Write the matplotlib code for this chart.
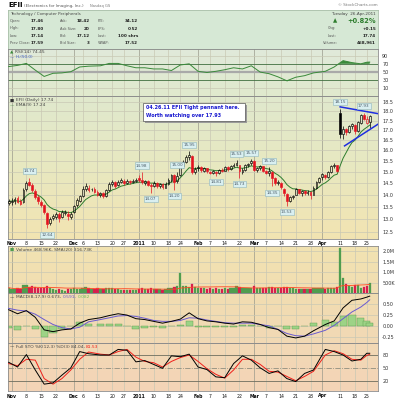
import matplotlib
matplotlib.use('Agg')
import matplotlib.pyplot as plt
import matplotlib.transforms as mtrans
from matplotlib.colors import LinearSegmentedColormap
from matplotlib.patches import Rectangle
from matplotlib.ticker import FixedLocator, FixedFormatter, NullLocator
import numpy as np
import pandas as pd

# ---------------- data ----------------
holidays = ['2010-11-25', '2010-12-24', '2011-01-17', '2011-02-21', '2011-04-22']
days = pd.bdate_range('2010-10-29', '2011-04-26')
days = days[~days.isin(pd.to_datetime(holidays))]

open_ = [13.65,
         13.70, 13.75, 13.85, 13.72, 13.70, 14.25, 14.55, 14.40, 14.15, 13.90, 13.70, 13.55, 13.25, 12.85, 13.05, 13.10, 13.20, 13.08, 13.25, 13.20, 13.10,
         13.30, 13.55, 13.75, 13.95, 14.25, 14.30, 14.22, 14.25, 14.10, 13.98, 14.05, 13.95, 14.20, 14.45, 14.52, 14.40, 14.55, 14.60, 14.50, 14.60, 14.52, 14.60,
         14.70, 14.65, 14.50, 14.58, 14.40, 14.38, 14.50, 14.35, 14.45, 14.30, 14.45, 14.62, 14.85, 14.60, 14.85, 15.25, 15.45, 15.70, 15.75, 15.00,
         15.15, 15.20, 15.05, 15.15, 15.00, 14.95, 15.00, 14.95, 15.10, 15.05, 15.20, 15.12, 15.25, 15.32, 15.30, 15.00, 15.10, 15.30, 15.38,
         15.48, 15.08, 15.15, 15.25, 15.05, 14.95, 15.00, 14.70, 14.48, 14.50, 14.25, 14.02, 13.75, 13.90, 14.00, 14.22, 14.05, 14.15, 14.05, 14.10, 14.00, 14.30, 14.55,
         14.75, 14.85, 14.78, 15.00, 15.25, 15.30, 17.90, 16.80, 17.05, 16.90, 17.20, 17.30, 16.95, 17.40, 17.80, 17.40, 17.46]
high = [13.80,
        13.85, 13.90, 13.92, 13.80, 14.30, 14.60, 14.74, 14.48, 14.22, 13.98, 13.78, 13.62, 13.30, 13.10, 13.22, 13.30, 13.28, 13.35, 13.38, 13.32, 13.28,
        13.58, 13.85, 14.00, 14.35, 14.50, 14.40, 14.30, 14.32, 14.18, 14.12, 14.10, 14.25, 14.55, 14.65, 14.58, 14.62, 14.70, 14.66, 14.68, 14.64, 14.68, 14.72,
        14.85, 14.98, 14.65, 14.62, 14.48, 14.58, 14.55, 14.50, 14.48, 14.52, 14.70, 14.90, 14.88, 15.00, 15.30, 15.55, 15.80, 15.95, 15.80, 15.20,
        15.30, 15.25, 15.22, 15.18, 15.05, 15.10, 15.05, 15.12, 15.18, 15.25, 15.24, 15.30, 15.38, 15.53, 15.32, 15.15, 15.35, 15.42, 15.57,
        15.52, 15.22, 15.32, 15.28, 15.10, 15.20, 15.05, 14.75, 14.62, 14.55, 14.30, 14.08, 13.95, 14.00, 14.28, 14.25, 14.20, 14.18, 14.18, 14.15, 14.35, 14.60, 14.78,
        14.95, 14.90, 15.05, 15.30, 15.38, 15.32, 18.15, 17.25, 17.10, 17.30, 17.40, 17.35, 17.50, 17.85, 17.93, 17.75, 17.80]
low = [13.55,
       13.55, 13.62, 13.65, 13.55, 13.65, 14.15, 14.35, 14.10, 13.80, 13.60, 13.48, 13.20, 12.64, 12.78, 12.95, 13.00, 12.90, 13.05, 13.18, 12.95, 13.02,
       13.25, 13.50, 13.70, 13.90, 14.15, 14.10, 14.15, 14.05, 13.92, 13.90, 13.85, 13.90, 14.15, 14.38, 14.30, 14.35, 14.50, 14.42, 14.45, 14.45, 14.48, 14.55,
       14.55, 14.45, 14.42, 14.35, 14.07, 14.32, 14.30, 14.30, 14.25, 14.28, 14.40, 14.55, 14.20, 14.50, 14.80, 15.15, 15.40, 15.55, 14.90, 14.92,
       15.05, 15.00, 15.00, 14.95, 14.88, 14.90, 14.81, 14.90, 14.98, 15.02, 15.05, 15.10, 15.20, 15.28, 14.73, 14.90, 15.05, 15.22, 15.30,
       15.05, 15.00, 15.10, 15.00, 14.88, 14.80, 14.35, 14.42, 14.40, 14.25, 13.95, 13.53, 13.68, 13.80, 13.98, 14.02, 13.92, 13.98, 14.00, 13.82, 13.98, 14.25, 14.50,
       14.65, 14.68, 14.72, 14.95, 15.15, 14.98, 16.60, 16.55, 16.75, 16.85, 17.05, 16.80, 16.90, 17.35, 17.55, 17.35, 17.14]
close = [13.72,
         13.75, 13.80, 13.70, 13.62, 14.20, 14.50, 14.42, 14.18, 13.88, 13.72, 13.58, 13.30, 12.82, 13.02, 13.12, 13.22, 13.05, 13.28, 13.30, 13.12, 13.22,
         13.52, 13.78, 13.92, 14.22, 14.35, 14.20, 14.25, 14.12, 13.98, 14.05, 13.92, 14.20, 14.45, 14.55, 14.38, 14.55, 14.62, 14.50, 14.60, 14.52, 14.60, 14.65,
         14.62, 14.52, 14.60, 14.42, 14.38, 14.50, 14.36, 14.45, 14.32, 14.45, 14.62, 14.85, 14.55, 14.80, 15.25, 15.45, 15.70, 15.78, 15.00, 15.12,
         15.22, 15.08, 15.15, 15.02, 14.95, 15.02, 14.95, 15.08, 15.05, 15.20, 15.12, 15.26, 15.32, 15.38, 15.02, 15.10, 15.30, 15.36, 15.48,
         15.10, 15.15, 15.26, 15.05, 14.95, 15.02, 14.72, 14.50, 14.55, 14.32, 14.05, 13.72, 13.88, 13.95, 14.22, 14.08, 14.15, 14.05, 14.12, 14.00, 14.30, 14.55, 14.72,
         14.88, 14.75, 15.00, 15.25, 15.30, 15.05, 16.80, 17.05, 16.92, 17.22, 17.32, 16.95, 17.42, 17.80, 17.60, 17.59, 17.74]
volume_k = [250,
            210, 180, 230, 200, 380, 360, 300, 330, 280, 250, 230, 260, 320, 240, 180, 150, 170, 140, 90, 180, 200,
            230, 210, 190, 260, 280, 220, 200, 180, 230, 170, 190, 250, 260, 230, 180, 170, 150, 160, 140, 130, 150, 120,
            210, 230, 190, 200, 220, 180, 190, 170, 160, 200, 230, 260, 280, 320, 950, 350, 330, 300, 420, 300,
            260, 240, 220, 200, 230, 210, 250, 200, 190, 220, 200, 230, 250, 340, 300, 260, 230, 220, 240,
            330, 260, 230, 250, 240, 280, 300, 260, 220, 240, 280, 300, 250, 230, 210, 200, 190, 210, 180, 200, 220, 240, 230,
            250, 200, 240, 260, 230, 300, 2150, 700, 420, 330, 300, 360, 380, 260, 310, 350, 468.96]

# labelled swing highs / lows (trading-day index)
high_marks = [7, 45, 57, 61, 77, 82, 88, 112, 120]
low_marks = [13, 48, 56, 70, 78, 89, 94]

# pennant trendlines (trading-day index, price)
pennant_top_x, pennant_top_y = [112, 124.8], [18.25, 17.88]
pennant_bot_x, pennant_bot_y = [113.5, 124.8], [16.22, 17.32]

# indicator readings (trading-day index)
ind_day = [0, 3, 6, 9, 12, 15, 18, 21, 24, 27, 31, 34, 37, 40, 43, 46, 49, 52, 55, 58, 61,
           64, 67, 70, 73, 76, 79, 82, 85, 88, 91, 94, 97, 100, 103, 107, 110, 113, 116, 119, 121, 122]
rsi = [63, 66, 71, 54, 38, 46, 47, 50, 62, 64, 65, 71, 71, 65, 60, 60, 57, 57, 53, 67, 70,
       51, 48, 51, 55, 60, 57, 65, 49, 45, 37, 27, 36, 40, 47, 51, 62, 78, 73, 70, 74, 74.45]
macd = [0.37, 0.28, 0.35, 0.20, -0.08, -0.12, -0.08, -0.06, 0.07, 0.15, 0.19, 0.24, 0.28, 0.25, 0.17, 0.15, 0.11, 0.07, 0.11, 0.16, 0.30,
        0.17, 0.12, 0.10, 0.07, 0.05, 0.10, 0.09, 0.04, -0.03, -0.07, -0.22, -0.26, -0.22, -0.10, 0.04, 0.12, 0.41, 0.58, 0.61, 0.65, 0.673]
signal = [0.40, 0.36, 0.34, 0.27, 0.15, 0.04, -0.03, -0.06, -0.02, 0.10, 0.15, 0.19, 0.23, 0.24, 0.22, 0.18, 0.13, 0.11, 0.11, 0.13, 0.19,
          0.18, 0.14, 0.11, 0.08, 0.07, 0.07, 0.07, 0.04, 0.01, -0.07, -0.16, -0.21, -0.22, -0.17, -0.09, 0.02, 0.17, 0.32, 0.43, 0.53, 0.591]
sto_k = [63, 52, 81, 45, 12, 15, 33, 50, 88, 83, 80, 80, 93, 91, 64, 67, 58, 49, 78, 76, 82,
         52, 46, 29, 27, 60, 78, 68, 50, 37, 43, 25, 18, 37, 45, 93, 88, 80, 66, 70, 84, 84.04]
sto_d = [60, 55, 70, 68, 25, 12, 25, 45, 70, 87, 82, 80, 88, 93, 75, 65, 62, 52, 65, 74, 80,
         65, 48, 35, 26, 45, 70, 70, 58, 42, 40, 30, 20, 30, 42, 80, 90, 83, 70, 68, 79, 81.53]

tick_dates = ['2010-11-01', '2010-11-08', '2010-11-15', '2010-11-22', '2010-12-01', '2010-12-06', '2010-12-13',
              '2010-12-20', '2010-12-27', '2011-01-03', '2011-01-10', '2011-01-18', '2011-01-24', '2011-02-01',
              '2011-02-07', '2011-02-14', '2011-02-22', '2011-03-01', '2011-03-07', '2011-03-14', '2011-03-21',
              '2011-03-28', '2011-04-01', '2011-04-11', '2011-04-18', '2011-04-25']
tick_labels = ['Nov', '8', '15', '22', 'Dec', '6', '13', '20', '27', '2011', '10', '18', '24', 'Feb',
               '7', '14', '22', 'Mar', '7', '14', '21', '28', 'Apr', '11', '18', '25']
month_labels = ['Nov', 'Dec', '2011', 'Feb', 'Mar', 'Apr']

# ---------------- derived ----------------
o, h, l, c = map(np.array, (open_, high, low, close))
vol = np.array(volume_k)
n = len(c)
x = np.arange(n)
ema = pd.Series(c).ewm(span=9, adjust=False).mean().values
vol_sma = pd.Series(vol).rolling(20, min_periods=1).mean().values
hist = np.array(macd) - np.array(signal)
tick_pos = [days.get_loc(pd.Timestamp(d)) for d in tick_dates]
up_day = np.r_[True, c[1:] >= c[:-1]]

# ---------------- figure ----------------
W, H = 400, 400
fig = plt.figure(figsize=(4, 4), dpi=100)
fig.patch.set_facecolor('white')
XL = (-0.22, 124.8)


def rect(top, bottom, left=8, right=378):
    return [left / W, 1 - bottom / H, (right - left) / W, (bottom - top) / H]


def ptext(px, py, s, **kw):
    kw.setdefault('va', 'center')
    return fig.text(px / W, 1 - py / H, s, **kw)


def chain(px, py, parts, **kw):
    r = fig.canvas.get_renderer()
    for s, col in parts:
        t = ptext(px, py, s, color=col, **kw)
        px += t.get_window_extent(r).width + 1.5


bg_cmap = LinearSegmentedColormap.from_list('bg', [
    (0.00, '#e0eada'), (0.14, '#e0e9cd'), (0.35, '#e8e8c0'),
    (0.55, '#f2e4b2'), (0.72, '#f1ddb1'), (0.86, '#f2d9b5'), (1.00, '#f4d4b7')])
GRID = '#c9c8b4'
MONTH = '#9a9a8c'


def panel(top, bottom, ylim, yticks, ylabels, log=False):
    r = rect(top, bottom)
    bg = fig.add_axes(r, zorder=0)
    ys = np.linspace(top, bottom, 80)
    bg.imshow(((ys - 49) / (391 - 49))[:, None], aspect='auto', cmap=bg_cmap,
              vmin=0, vmax=1, extent=[0, 1, 0, 1], origin='upper')
    bg.axis('off')
    ax = fig.add_axes(r, zorder=1)
    ax.patch.set_alpha(0)
    if log:
        ax.set_yscale('log')
    ax.set_xlim(*XL)
    ax.set_ylim(*ylim)
    ax.yaxis.tick_right()
    ax.yaxis.set_major_locator(FixedLocator(yticks))
    ax.yaxis.set_major_formatter(FixedFormatter(ylabels))
    ax.yaxis.set_minor_locator(NullLocator())
    ax.set_xticks([])
    ax.tick_params(axis='y', length=0, pad=3, labelsize=3.5, labelcolor='#333333')
    for s in ax.spines.values():
        s.set_color('#8c8c8c')
        s.set_linewidth(0.6)
    for tp, lab in zip(tick_pos, tick_labels):
        ax.axvline(tp, color=MONTH if lab in month_labels else GRID, lw=0.5, zorder=0.5)
    return ax


# title row
ptext(8, 5, 'EFII', fontsize=5, fontweight='bold', color='black')
ptext(23.5, 5.5, '(Electronics for Imaging, Inc.)', fontsize=2.9, color='#555555')
ptext(90, 5.5, 'Nasdaq GS', fontsize=2.6, color='#777777')
ptext(378, 5.5, '\u00a9 StockCharts.com', fontsize=2.9, color='#777777', ha='right')

# info box
info = fig.add_axes(rect(10, 49), zorder=1)
info.set_facecolor('#d6e8d5')
info.set_xticks([])
info.set_yticks([])
for s in info.spines.values():
    s.set_color('#a9bfa9')
    s.set_linewidth(0.6)
ptext(10, 13.5, 'Technology / Computer Peripherals', fontsize=2.85, color='#444444', zorder=3)
ptext(376, 13.5, 'Tuesday  26-Apr-2011', fontsize=3.0, color='#444444', ha='right', zorder=3)
rows_y = [21, 28.5, 36, 43.3]
cols = [(10, 44, ['Open:', 'High:', 'Low:', 'Prev Close:'], ['17.46', '17.80', '17.14', '17.59']),
        (60, 90, ['Ask:', 'Ask Size:', 'Bid:', 'Bid Size:'], ['18.42', '20', '17.12', '3']),
        (98, 138, ['P/E:', 'EPS:', 'Last:', 'VWAP:'], ['34.12', '0.52', '100 shrs', '17.52'])]
for lx, vx, labs, vals in cols:
    for yy, lab, val in zip(rows_y, labs, vals):
        ptext(lx, yy, lab, fontsize=2.6, color='#555555', zorder=3)
        ptext(vx, yy, val, fontsize=3.0, color='#222222', fontweight='bold', ha='right', zorder=3)
ptext(335, 21, '\u25b2', fontsize=4.0, color='#2e7d2e', ha='center', zorder=3)
ptext(376, 21, '+0.82%', fontsize=4.8, color='#2e7d2e', fontweight='bold', ha='right', zorder=3)
for yy, lab, val, lx in [(28.5, 'Chg:', '+0.15', 328), (36, 'Last:', '17.74', 328), (43.3, 'Volume:', '468,961', 323)]:
    ptext(lx, yy, lab, fontsize=2.6, color='#555555', zorder=3)
    ptext(376, yy, val, fontsize=3.0, color='#222222', fontweight='bold', ha='right', zorder=3)

# RSI panel
ax_r = panel(49, 96, (-11.5, 107.5), [10, 30, 50, 70, 90], ['10', '30', '50', '70', '90'])
ax_r.axhline(50, color='#a9a9a9', lw=1.6, zorder=0.6)
ax_r.axhline(70, color='#3f6f3f', lw=0.6, zorder=0.6)
ax_r.axhline(30, color='#3f6f3f', lw=0.6, zorder=0.6)
for yv in (10, 90):
    ax_r.axhline(yv, color=GRID, lw=0.5, zorder=0.5)
ra = np.array(rsi, float)
ax_r.fill_between(ind_day, ra, 70, where=ra > 70, interpolate=True, color='#3a8a3a', lw=0, zorder=2)
ax_r.fill_between(ind_day, ra, 30, where=ra < 30, interpolate=True, color='#3a8a3a', lw=0, zorder=2)
ax_r.plot(ind_day, ra, color='#3a8a3a', lw=0.7, zorder=3)
chain(10, 52, [('\u25b2', '#3a8a3a'), (f'RSI(14) {rsi[-1]:.2f}', '#444444')], fontsize=3.2, zorder=4)
chain(10, 57, [('\u2014', '#3b5bc8'), ('HL(50.0)', '#3b5bc8')], fontsize=3.0, zorder=4)

# price panel
pt = np.arange(12.5, 18.51, 0.5)
ax_p = panel(96, 239, (12.24, 18.86), pt, [f'{v:.1f}' for v in pt], log=True)
for yv in pt:
    ax_p.axhline(yv, color=GRID, lw=0.5, zorder=0.5)
bw = 0.62
for i in range(n):
    col = 'black' if up_day[i] else '#e3121f'
    top_b, bot_b = max(o[i], c[i]), min(o[i], c[i])
    ax_p.vlines(i, top_b, h[i], color=col, lw=0.5, zorder=3)
    ax_p.vlines(i, l[i], bot_b, color=col, lw=0.5, zorder=3)
    hollow = c[i] > o[i]
    ax_p.add_patch(Rectangle((i - bw / 2, bot_b), bw, max(top_b - bot_b, 0.015),
                             facecolor='none' if hollow else col, edgecolor=col, lw=0.45, zorder=3))
ax_p.plot(x, ema, color='#2d7d2d', lw=0.7, zorder=2.5)
ax_p.plot(pennant_top_x, pennant_top_y, color='#1f2fe0', lw=1.1, zorder=4)
ax_p.plot(pennant_bot_x, pennant_bot_y, color='#1f2fe0', lw=1.1, zorder=4)
box = dict(boxstyle='square,pad=0.25', fc='#d9eff1', ec='#8fb6be', lw=0.4)
for i in high_marks:
    ax_p.annotate(f'{h[i]:.2f}', (i, h[i]), xytext=(0, 4.8), textcoords='offset points',
                  ha='center', va='center', fontsize=3.0, color='#4a5a66', bbox=box, zorder=5)
for i in low_marks:
    ax_p.annotate(f'{l[i]:.2f}', (i, l[i]), xytext=(0, -4.5), textcoords='offset points',
                  ha='center', va='center', fontsize=3.0, color='#4a5a66', bbox=box, zorder=5)
chain(10, 100.5, [('\u25a0', '#333333'), (f'EFII (Daily) {c[-1]:.2f}', '#444444')], fontsize=3.2, zorder=4)
chain(10, 105.5, [('\u2014', '#2d7d2d'), ('EMA(9) 17.24', '#444444')], fontsize=3.2, zorder=4)

# note box
fig.patches.append(Rectangle((145 / W, 1 - 123 / H), 102 / W, 18 / H, transform=fig.transFigure,
                             facecolor='#9a9a9a', edgecolor='none', zorder=5))
fig.patches.append(Rectangle((143 / W, 1 - 121 / H), 102 / W, 18 / H, transform=fig.transFigure,
                             facecolor='white', edgecolor='#555555', lw=0.5, zorder=6))
ptext(145.5, 107.5, '04.26.11 EFII Tight pennant here.', fontsize=3.5, color='#1a1ad0',
      fontweight='bold', zorder=7)
ptext(145.5, 116, 'Worth watching over 17.93', fontsize=3.5, color='#1a1ad0', fontweight='bold', zorder=7)

# date rows
tr = mtrans.blended_transform_factory(ax_p.transData, fig.transFigure)
for yrow in (243, 396):
    for tp, lab in zip(tick_pos, tick_labels):
        fig.text(tp, 1 - yrow / H, lab, transform=tr, ha='center', va='center', fontsize=3.3,
                 color='#111111', fontweight='bold' if lab in month_labels else 'normal')

# volume panel
ax_v = panel(246, 293, (0, 2245), [500, 1000, 1500, 2000], ['500K', '1.0M', '1.5M', '2.0M'])
for yv in (500, 1000, 1500, 2000):
    ax_v.axhline(yv, color=GRID, lw=0.5, zorder=0.5)
vcol = np.where(up_day, '#4f9d4f', '#d81e4e')
ax_v.bar(x, vol, width=0.78, color=vcol, edgecolor=vcol, lw=0.2, zorder=2)
ax_v.plot(x, vol_sma, color='#ff4a22', lw=0.6, zorder=3)
chain(10, 250, [('\u25a0', '#4f9d4f'), (f'Volume {vol[-1]:.2f}K, SMA(20) 316.73K', '#444444')], fontsize=3.2, zorder=4)

# MACD panel
ax_m = panel(293, 343, (-0.373, 0.743), [-0.25, 0, 0.25, 0.5], ['-0.25', '0.00', '0.25', '0.50'])
for yv in (-0.25, 0, 0.25, 0.5):
    ax_m.axhline(yv, color=GRID, lw=0.5, zorder=0.5)
ax_m.bar(ind_day, hist, width=2.4, color='#9dd386', edgecolor='#5c9a4c', lw=0.3, zorder=2)
ax_m.plot(ind_day, signal, color='#6a5ad0', lw=0.7, zorder=3)
ax_m.plot(ind_day, macd, color='black', lw=0.7, zorder=4)
chain(10, 297, [('\u2014', 'black'), (f'MACD(8,17,9) {macd[-1]:.3f},', '#444444'),
                (f'{signal[-1]:.3f},', '#6a5ad0'), (f'{hist[-1]:.3f}', '#6fbf5a')], fontsize=3.2, zorder=5)

# Full stochastics panel
ax_s = panel(343, 391, (-4, 108), [20, 50, 80], ['20', '50', '80'])
ax_s.axhline(80, color='#6e6e5e', lw=0.6, zorder=0.6)
ax_s.axhline(20, color='#6e6e5e', lw=0.6, zorder=0.6)
ax_s.axhline(50, color='#8e8e7e', lw=0.6, ls='-.', zorder=0.6)
ax_s.plot(ind_day, sto_d, color='#f0201a', lw=0.7, zorder=3)
ax_s.plot(ind_day, sto_k, color='black', lw=0.7, zorder=4)
chain(10, 346.5, [('\u2014', 'black'), (f'Full STO %K(12,3) %D(3) {sto_k[-1]:.2f},', '#444444'),
                  (f'{sto_d[-1]:.2f}', '#f0201a')], fontsize=3.2, zorder=5)

fig.savefig('out.png', dpi=100)
